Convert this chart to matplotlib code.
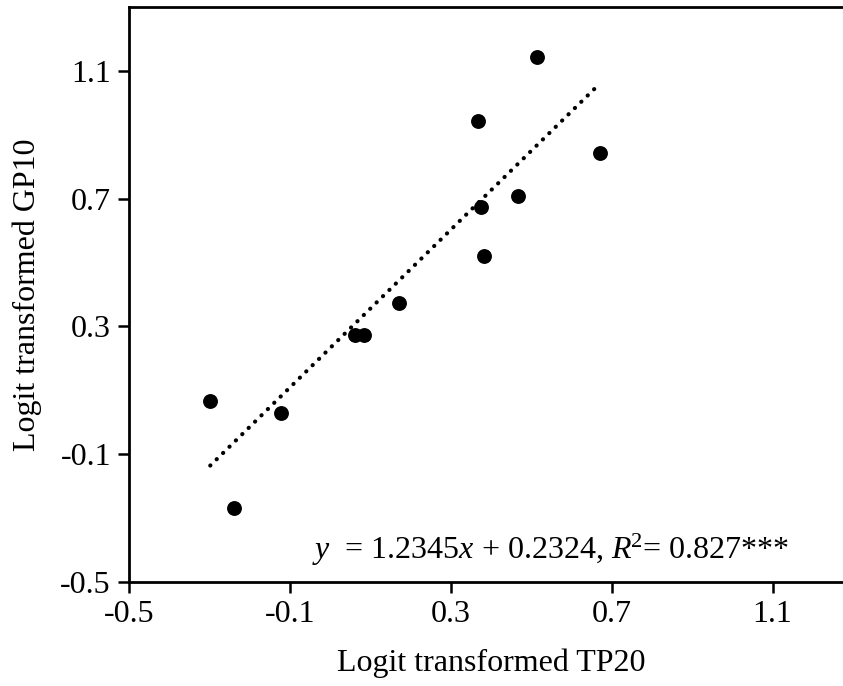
import matplotlib
matplotlib.use("Agg")
import matplotlib.pyplot as plt
import numpy as np

# Logit-transformed proportions
tp20 = [0.514, 0.367, 0.670, 0.468, 0.375, 0.382, 0.172, 0.061, 0.084, -0.121, -0.298, -0.240]
gp10 = [1.144, 0.943, 0.843, 0.708, 0.673, 0.520, 0.372, 0.272, 0.272, 0.030, 0.068, -0.268]

slope = 1.2345
intercept = 0.2324
r2 = 0.827

ticks = [-0.5, -0.1, 0.3, 0.7, 1.1]

plt.rcParams["font.family"] = ["Liberation Serif", "DejaVu Serif"]
plt.rcParams["mathtext.fontset"] = "custom"
plt.rcParams["mathtext.rm"] = "Liberation Serif"
plt.rcParams["mathtext.it"] = "Liberation Serif:italic"

FS = 23

W, H = 843, 686
fig = plt.figure(figsize=(W / 100, H / 100), dpi=100)
x0, x1 = 129, 853
y0, y1 = 582, 7
ax = fig.add_axes([x0 / W, (H - y0) / H, (x1 - x0) / W, (y0 - y1) / H])

ax.scatter(tp20, gp10, s=115, color="black", zorder=3, linewidths=0)

xs = np.array([min(tp20), max(tp20)])
ax.plot(xs, slope * xs + intercept, color="black", lw=3.0,
        linestyle=(0, (0.05, 2.1)), dash_capstyle="round", zorder=2)

ax.text(-0.045, -0.40,
        r"$y$  = 1.2345$x$ + 0.2324, $R$$^2$= 0.827***",
        fontsize=FS, va="center", ha="left")

ax.set_xlim(-0.5, 1.3)
ax.set_ylim(-0.5, 1.3)
ax.set_xticks(ticks)
ax.set_yticks(ticks)
ax.set_xticklabels([f"{t:.1f}" for t in ticks])
ax.set_yticklabels([f"{t:.1f}" for t in ticks])
ax.tick_params(direction="out", length=8, width=1.8, labelsize=FS, pad=5)

for side in ("left", "bottom", "top"):
    ax.spines[side].set_linewidth(2.0)
ax.spines["right"].set_visible(False)

ax.set_xlabel("Logit transformed TP20", fontsize=FS, labelpad=14)
ax.set_ylabel("Logit transformed GP10", fontsize=FS, labelpad=13)

fig.savefig("out.png", dpi=100)
